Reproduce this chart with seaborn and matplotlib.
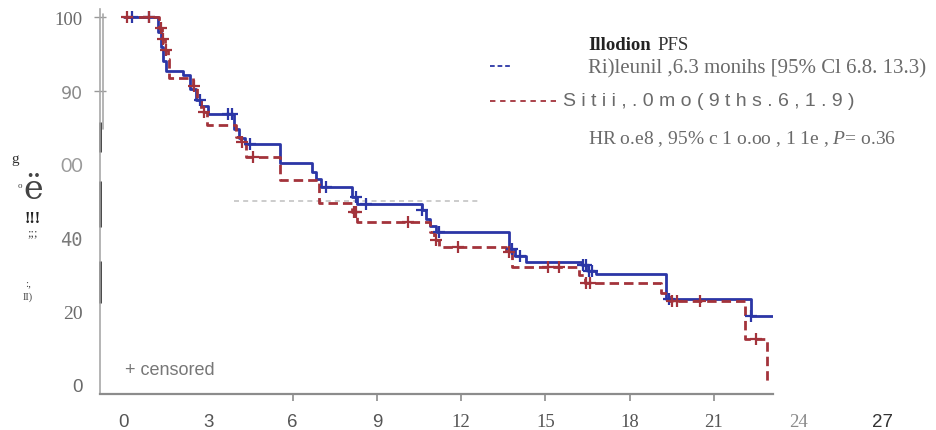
import numpy as np
import matplotlib
matplotlib.use("Agg")
import matplotlib.pyplot as plt
from matplotlib.lines import Line2D
import matplotlib.transforms as mtransforms
import seaborn as sns

sns.set_theme(style="white")
plt.rcParams["font.family"] = ["Liberation Sans", "DejaVu Sans"]
plt.rcParams["mathtext.fontset"] = "custom"
plt.rcParams["mathtext.it"] = "Liberation Serif:italic"
plt.rcParams["mathtext.rm"] = "Liberation Serif"

# ---- Kaplan-Meier step data (months, % progression-free) ----
ril_times = [0, 1.2, 1.3, 1.4, 1.5, 2.1, 2.35, 2.55, 2.75, 3.0, 3.9, 4.1, 4.3,
             5.55, 6.7, 6.85, 7.0, 8.1, 8.3, 10.6, 10.75, 10.9, 11.1, 13.7,
             13.9, 14.3, 16.3, 16.5, 16.8, 19.3, 22.3, 23.1]
ril_surv = [100, 96, 92, 88, 85.3, 84.2, 80.4, 77.5, 75.8, 73.6, 69.5, 67, 65.5,
            60.3, 58, 56, 53.8, 51, 49.2, 47.5, 45, 43.2, 41.6, 37,
            35, 33.4, 32.5, 31, 30.2, 23.4, 18.8, 18.8]
ril_censor = [0.3, 0.9, 2.7, 3.7, 3.85, 4.5, 7.2, 8.25, 8.6, 10.6, 11.2,
              13.8, 14.1, 16.35, 16.45, 16.55, 16.65, 19.4, 22.3]

sit_times = [0, 1.25, 1.35, 1.45, 1.55, 1.6, 2.45, 2.6, 2.75, 2.95, 4.0, 4.15,
             4.35, 5.55, 6.95, 8.1, 8.3, 10.9, 11.05, 11.2, 13.6, 13.8, 16.2,
             16.4, 19.1, 19.4, 22.1, 22.9]
sit_surv = [100, 97, 94, 91, 88.6, 83.5, 81.3, 77.5, 74.2, 70.6, 67.5, 66,
            62, 55.8, 49.5, 47, 44.3, 41.5, 39.5, 37.5, 36.2, 32, 30,
            27.7, 25, 22.8, 12.5, 0]
sit_censor = [0.1, 0.9, 1.3, 1.4, 1.5, 2.5, 2.85, 4.2, 4.6, 8.2, 8.25, 10.1,
              11.1, 11.9, 13.7, 15.1, 15.5, 16.45, 16.6, 19.5, 19.7, 20.5, 22.5]

median_level = 50
median_span = [3.9, 12.7]

x_tick_values = [0, 3, 6, 9, 12, 15, 18, 21, 24, 27]
x_tick_marks = [6, 9, 12, 15, 18, 21]
y_tick_values = [100, 80, 60, 40, 20, 0]
y_tick_labels = ["100", "90", "00", "40", "20", "0"]

BLUE = "#2b36a6"
RED = "#a3333b"

W, H = 937, 431
fig = plt.figure(figsize=(W / 100, H / 100), dpi=100)
ax = fig.add_axes([100 / W, 1 - 395 / H, 673 / W, 385 / H])


def step_value(times, surv, t):
    i = np.searchsorted(times, t, side="right") - 1
    return surv[i]


# reference line at the median
ax.plot(median_span, [median_level, median_level], color="#c4c4c4",
        lw=1.2, ls=(0, (3, 2.5)), zorder=1)

sns.lineplot(x=ril_times, y=ril_surv, ax=ax, color=BLUE, lw=2.0,
             drawstyle="steps-post", estimator=None, sort=False, zorder=3)
sns.lineplot(x=sit_times, y=sit_surv, ax=ax, color=RED, lw=2.0,
             drawstyle="steps-post", estimator=None, sort=False, zorder=4,
             linestyle=(0, (3.4, 1.8)))

ril_cy = [step_value(ril_times, ril_surv, t) for t in ril_censor]
sit_cy = [step_value(sit_times, sit_surv, t) for t in sit_censor]
sns.scatterplot(x=ril_censor, y=ril_cy, ax=ax, marker="+", s=70,
                color=BLUE, linewidth=1.6, zorder=5)
sns.scatterplot(x=sit_censor, y=sit_cy, ax=ax, marker="+", s=70,
                color=RED, linewidth=1.6, zorder=6)

ax.set_xlim(-0.854, 23.1)
ax.set_ylim(-2.45, 102.2)
ax.set_xlabel("")
ax.set_ylabel("")

for side in ["top", "right"]:
    ax.spines[side].set_visible(False)
ax.spines["left"].set_color("#a8a8a8")
ax.spines["left"].set_linewidth(1.2)
ax.spines["bottom"].set_color("#8c8c8c")
ax.spines["bottom"].set_linewidth(1.6)

# y axis: labels plus short ticks at the top two values
ax.set_yticks(y_tick_values)
ax.set_yticklabels(y_tick_labels)
ax.tick_params(axis="y", direction="inout", length=9, width=1.0,
               color="#999999", pad=8, left=True)
yfonts = [("Liberation Serif", "#6a6a6a", 13.5),
          ("DejaVu Sans", "#8a8a8a", 12.5),
          ("Lato", "#9a9a9a", 14),
          ("DejaVu Sans Mono", "#7a7a7a", 13.5),
          ("Liberation Serif", "#6a6a6a", 14),
          ("Liberation Sans", "#6a6a6a", 13.5)]
for lab, (fam, col, sz) in zip(ax.get_yticklabels(), yfonts):
    lab.set_family(fam)
    lab.set_color(col)
    lab.set_fontsize(sz)
for i, tk in enumerate(ax.yaxis.get_major_ticks()):
    tk.tick1line.set_visible(i < 2)

# x axis: short ticks, labels drawn as text so 24 and 27 show past the axis end
ax.set_xticks(x_tick_marks)
ax.set_xticklabels([])
ax.tick_params(axis="x", direction="out", length=5, width=1.2,
               color="#8c8c8c", bottom=True)
xfonts = {0: ("Liberation Sans", "#555555", 13.5),
          3: ("Liberation Sans", "#555555", 13.5),
          6: ("Liberation Sans", "#555555", 13.5),
          9: ("Liberation Sans", "#555555", 13.5),
          12: ("Liberation Serif", "#555555", 13.5),
          15: ("Liberation Serif", "#555555", 13.5),
          18: ("Liberation Serif", "#555555", 13.5),
          21: ("Liberation Serif", "#555555", 13.5),
          24: ("Liberation Serif", "#8a8a8a", 13.5),
          27: ("Liberation Sans", "#333333", 13.5)}
xtrans = ax.get_xaxis_transform()
for v in x_tick_values:
    fam, col, sz = xfonts[v]
    ax.text(v, -0.072, str(v), transform=xtrans, ha="center", va="center",
            family=fam, color=col, fontsize=sz, clip_on=False)

# second rule beside the y axis and darker segments along it
ytrans = mtransforms.blended_transform_factory(ax.transAxes, ax.transData)
ax.plot([0.0048, 0.0048], [100.8, 69.6], color="#a8a8a8", lw=1.2,
        transform=ytrans, clip_on=False)
for lo, hi in [(71.5, 63.3), (55.4, 42.9), (33.7, 22.3)]:
    ax.plot([0, 0], [lo, hi], color="#111111", lw=1.8, transform=ytrans,
            clip_on=False, solid_capstyle="butt")


def ftext(x, y, s, **kw):
    fig.text(x / W, 1 - y / H, s, **kw)


# legend block
ftext(588, 46, "Illodion", family="Liberation Serif", weight="bold",
      fontsize=13.5, color="#222222", va="center")
ftext(657, 46, "PFS", family="Liberation Serif", fontsize=13.5,
      color="#333333", va="center")
fig.add_artist(Line2D([490 / W, 512 / W], [1 - 67 / H] * 2, color=BLUE,
                      lw=1.3, ls=(0, (2.6, 1.6))))
ftext(588, 69, "Ri)leunil ,6.3 monihs [95% Cl 6.8. 13.3)",
      family="Liberation Serif", fontsize=15, color="#6a6a6a", va="center")
fig.add_artist(Line2D([490 / W, 556 / W], [1 - 102 / H] * 2, color=RED,
                      lw=1.3, ls=(0, (3, 2.6))))
ftext(563, 101, "S i t i i , . 0 m o ( 9 t h s . 6 , 1 . 9 )",
      family="Liberation Sans", fontsize=14, color="#6a6a6a", va="center")
ftext(588, 139, "HR o.e8 , 95% c 1 o.oo , 1 1e , $P$= o.36",
      family="Liberation Serif", fontsize=14, color="#6a6a6a", va="center")

ftext(125, 371, "+ censored", family="Liberation Sans", fontsize=13,
      color="#777777", va="center")

# rotated axis title fragments
ftext(15, 160, "g", family="Liberation Serif", fontsize=11, color="#333333",
      ha="center", va="center")
ftext(20, 186, "o", family="Liberation Serif", fontsize=6.5, color="#444444",
      ha="center", va="center")
ftext(33, 190, "ë", family="DejaVu Serif", fontsize=24, color="#444444",
      ha="center", va="center")
ftext(33, 219, "!!!", family="Liberation Serif", weight="bold", fontsize=11.5,
      color="#222222", ha="center", va="center")
ftext(33, 233, ";;;", family="Liberation Serif", fontsize=9,
      color="#444444", ha="center", va="center")
ftext(28, 284, ":,", family="Liberation Serif", fontsize=8,
      color="#444444", ha="center", va="center")
ftext(28, 297, "II)", family="Liberation Serif", fontsize=7.5,
      color="#444444", ha="center", va="center")

fig.savefig("out.png", dpi=100)
